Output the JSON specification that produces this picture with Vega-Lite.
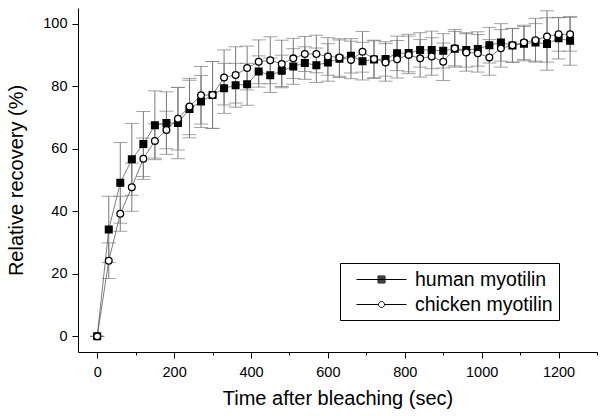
{
  "$schema": "https://vega.github.io/schema/vega-lite/v6.json",
  "width": 519,
  "height": 344,
  "autosize": "none",
  "padding": {"left": 78, "top": 8, "right": 7, "bottom": 64},
  "background": "white",
  "config": {
    "view": {"stroke": null},
    "font": "Liberation Sans",
    "axis": {
      "domainColor": "black",
      "tickColor": "black",
      "labelColor": "black",
      "titleColor": "black",
      "titleFontWeight": "normal",
      "grid": false,
      "labelFont": "Liberation Sans",
      "titleFont": "Liberation Sans"
    }
  },
  "data": {
    "values": [
      {"series": "human myotilin", "time": 0, "value": 0, "err": 0},
      {"series": "human myotilin", "time": 30, "value": 34.2, "err": 10.6},
      {"series": "human myotilin", "time": 60, "value": 49.1, "err": 12.9},
      {"series": "human myotilin", "time": 90, "value": 56.6, "err": 11.5},
      {"series": "human myotilin", "time": 120, "value": 61.5, "err": 10.4},
      {"series": "human myotilin", "time": 150, "value": 67.5, "err": 11},
      {"series": "human myotilin", "time": 180, "value": 68.2, "err": 10},
      {"series": "human myotilin", "time": 210, "value": 68.2, "err": 11.4},
      {"series": "human myotilin", "time": 240, "value": 72.7, "err": 9.2},
      {"series": "human myotilin", "time": 270, "value": 75.1, "err": 8.3},
      {"series": "human myotilin", "time": 300, "value": 77.2, "err": 10.7},
      {"series": "human myotilin", "time": 330, "value": 79.3, "err": 8},
      {"series": "human myotilin", "time": 360, "value": 80.3, "err": 7},
      {"series": "human myotilin", "time": 390, "value": 80.6, "err": 6.7},
      {"series": "human myotilin", "time": 420, "value": 84.7, "err": 5},
      {"series": "human myotilin", "time": 450, "value": 83.5, "err": 5.5},
      {"series": "human myotilin", "time": 480, "value": 84.9, "err": 5},
      {"series": "human myotilin", "time": 510, "value": 86.3, "err": 5.7},
      {"series": "human myotilin", "time": 540, "value": 87.4, "err": 5.2},
      {"series": "human myotilin", "time": 570, "value": 86.7, "err": 5.5},
      {"series": "human myotilin", "time": 600, "value": 87.6, "err": 6},
      {"series": "human myotilin", "time": 630, "value": 88.8, "err": 6},
      {"series": "human myotilin", "time": 660, "value": 89.7, "err": 5.5},
      {"series": "human myotilin", "time": 690, "value": 88.0, "err": 6},
      {"series": "human myotilin", "time": 720, "value": 88.5, "err": 6},
      {"series": "human myotilin", "time": 750, "value": 88.7, "err": 5.5},
      {"series": "human myotilin", "time": 780, "value": 90.5, "err": 5.5},
      {"series": "human myotilin", "time": 810, "value": 90.6, "err": 6},
      {"series": "human myotilin", "time": 840, "value": 91.6, "err": 5.5},
      {"series": "human myotilin", "time": 870, "value": 91.6, "err": 6},
      {"series": "human myotilin", "time": 900, "value": 91.3, "err": 5.5},
      {"series": "human myotilin", "time": 930, "value": 92.0, "err": 5.5},
      {"series": "human myotilin", "time": 960, "value": 91.6, "err": 5.5},
      {"series": "human myotilin", "time": 990, "value": 91.9, "err": 5.5},
      {"series": "human myotilin", "time": 1020, "value": 93.1, "err": 5.7},
      {"series": "human myotilin", "time": 1050, "value": 94.0, "err": 6},
      {"series": "human myotilin", "time": 1080, "value": 93.0, "err": 5.4},
      {"series": "human myotilin", "time": 1110, "value": 93.6, "err": 5.5},
      {"series": "human myotilin", "time": 1140, "value": 94.0, "err": 6},
      {"series": "human myotilin", "time": 1170, "value": 93.5, "err": 8.4},
      {"series": "human myotilin", "time": 1200, "value": 95.3, "err": 6.6},
      {"series": "human myotilin", "time": 1230, "value": 94.5, "err": 7.8},
      {"series": "chicken myotilin", "time": 0, "value": 0, "err": 0},
      {"series": "chicken myotilin", "time": 30, "value": 24.2, "err": 5.7},
      {"series": "chicken myotilin", "time": 60, "value": 39.2, "err": 5.6},
      {"series": "chicken myotilin", "time": 90, "value": 47.7, "err": 7.7},
      {"series": "chicken myotilin", "time": 120, "value": 56.8, "err": 6.6},
      {"series": "chicken myotilin", "time": 150, "value": 62.5, "err": 5.5},
      {"series": "chicken myotilin", "time": 180, "value": 66.0, "err": 6},
      {"series": "chicken myotilin", "time": 210, "value": 69.6, "err": 10},
      {"series": "chicken myotilin", "time": 240, "value": 73.5, "err": 9},
      {"series": "chicken myotilin", "time": 270, "value": 77.1, "err": 9.2},
      {"series": "chicken myotilin", "time": 300, "value": 77.2, "err": 10.7},
      {"series": "chicken myotilin", "time": 330, "value": 82.8, "err": 8.8},
      {"series": "chicken myotilin", "time": 360, "value": 83.6, "err": 9},
      {"series": "chicken myotilin", "time": 390, "value": 85.8, "err": 7},
      {"series": "chicken myotilin", "time": 420, "value": 87.8, "err": 7},
      {"series": "chicken myotilin", "time": 450, "value": 88.3, "err": 7.5},
      {"series": "chicken myotilin", "time": 480, "value": 87.1, "err": 7.6},
      {"series": "chicken myotilin", "time": 510, "value": 88.9, "err": 6.4},
      {"series": "chicken myotilin", "time": 540, "value": 90.3, "err": 5.6},
      {"series": "chicken myotilin", "time": 570, "value": 90.3, "err": 6},
      {"series": "chicken myotilin", "time": 600, "value": 89.5, "err": 6},
      {"series": "chicken myotilin", "time": 630, "value": 89.2, "err": 6},
      {"series": "chicken myotilin", "time": 660, "value": 88.4, "err": 6},
      {"series": "chicken myotilin", "time": 690, "value": 91.0, "err": 6.5},
      {"series": "chicken myotilin", "time": 720, "value": 88.7, "err": 6},
      {"series": "chicken myotilin", "time": 750, "value": 87.6, "err": 6},
      {"series": "chicken myotilin", "time": 780, "value": 88.6, "err": 6},
      {"series": "chicken myotilin", "time": 810, "value": 90.0, "err": 6},
      {"series": "chicken myotilin", "time": 840, "value": 88.9, "err": 6},
      {"series": "chicken myotilin", "time": 870, "value": 89.5, "err": 6},
      {"series": "chicken myotilin", "time": 900, "value": 87.8, "err": 6},
      {"series": "chicken myotilin", "time": 930, "value": 92.1, "err": 6},
      {"series": "chicken myotilin", "time": 960, "value": 90.8, "err": 6},
      {"series": "chicken myotilin", "time": 990, "value": 90.5, "err": 6},
      {"series": "chicken myotilin", "time": 1020, "value": 89.2, "err": 5.7},
      {"series": "chicken myotilin", "time": 1050, "value": 92.1, "err": 6},
      {"series": "chicken myotilin", "time": 1080, "value": 93.1, "err": 5.4},
      {"series": "chicken myotilin", "time": 1110, "value": 94.0, "err": 5.5},
      {"series": "chicken myotilin", "time": 1140, "value": 94.7, "err": 7},
      {"series": "chicken myotilin", "time": 1170, "value": 95.9, "err": 8.2},
      {"series": "chicken myotilin", "time": 1200, "value": 96.6, "err": 5.4},
      {"series": "chicken myotilin", "time": 1230, "value": 96.6, "err": 5.4}
    ]
  },
  "encoding": {
    "x": {
      "field": "time",
      "type": "quantitative",
      "scale": {"domain": [-50, 1300], "nice": false, "zero": false},
      "axis": {
        "title": "Time after bleaching (sec)",
        "titleFontSize": 20,
        "titlePadding": 10,
        "values": [0, 100, 200, 300, 400, 500, 600, 700, 800, 900, 1000, 1100, 1200, 1300],
        "format": "d",
        "labelExpr": "datum.value % 200 === 0 ? datum.label : ''",
        "tickSize": {"condition": {"test": "datum.value % 200 === 0", "value": 6}, "value": 3},
        "labelFontSize": 14.5,
        "labelPadding": 7,
        "labelFlush": false,
        "labelOverlap": false,
        "labelBound": false
      }
    },
    "y": {
      "field": "value",
      "type": "quantitative",
      "scale": {"domain": [-5, 105], "nice": false, "zero": false},
      "axis": {
        "title": "Relative recovery (%)",
        "titleFontSize": 20,
        "titlePadding": 16,
        "values": [0, 20, 40, 60, 80, 100],
        "tickSize": 6,
        "labelFontSize": 14.5,
        "labelPadding": 5,
        "labelFlush": false,
        "labelOverlap": false,
        "labelBound": false
      }
    }
  },
  "resolve": {"scale": {"shape": "independent"}, "legend": {"shape": "independent"}},
  "layer": [
    {
      "mark": {
        "type": "errorbar",
        "ticks": {"size": 14, "color": "#7a7a7a", "strokeWidth": 1},
        "rule": {"color": "#7a7a7a", "strokeWidth": 1}
      },
      "encoding": {
        "yError": {"field": "err"},
        "detail": {"field": "series"}
      }
    },
    {
      "mark": {"type": "line", "strokeWidth": 0.7, "color": "#444"},
      "encoding": {"detail": {"field": "series"}}
    },
    {
      "mark": {"type": "point", "filled": false, "stroke": "black", "strokeWidth": 1.3, "opacity": 1, "size": 45},
      "encoding": {
        "shape": {
          "field": "series",
          "type": "nominal",
          "scale": {"domain": ["human myotilin", "chicken myotilin"], "range": ["square", "circle"]},
          "legend": null
        },
        "fill": {
          "field": "series",
          "type": "nominal",
          "scale": {"domain": ["human myotilin", "chicken myotilin"], "range": ["black", "white"]},
          "legend": null
        }
      }
    },
    {
      "mark": {"type": "point", "filled": false, "opacity": 0, "size": 1},
      "encoding": {
        "shape": {
          "field": "series",
          "type": "nominal",
          "scale": {
            "domain": ["human myotilin", "chicken myotilin"],
            "range": [
              "M-2.5,0H2.5M-0.35,-0.35H0.35V0.35H-0.35ZM-0.25,-0.25H0.25V0.25H-0.25ZM-0.15,-0.15H0.15V0.15H-0.15ZM-0.05,-0.05H0.05V0.05H-0.05Z",
              "M-2.5,0H-0.3M0.3,0H2.5M-0.3,0A0.3,0.3 0 1,1 0.3,0A0.3,0.3 0 1,1 -0.3,0Z"
            ]
          },
          "legend": {
            "orient": "none",
            "legendX": 262,
            "legendY": 255,
            "title": null,
            "strokeColor": "black",
            "padding": 6,
            "symbolOffset": 25,
            "symbolSize": 400,
            "symbolStrokeWidth": 1,
            "symbolStrokeColor": "black",
            "symbolFillColor": "white",
            "symbolOpacity": 1,
            "labelFontSize": 19.5,
            "labelFont": "Liberation Sans",
            "labelColor": "black",
            "labelOffset": 23,
            "rowPadding": 5,
            "labelExpr": "datum.label + '\u00a0\u00a0'"
          }
        }
      }
    }
  ]
}
